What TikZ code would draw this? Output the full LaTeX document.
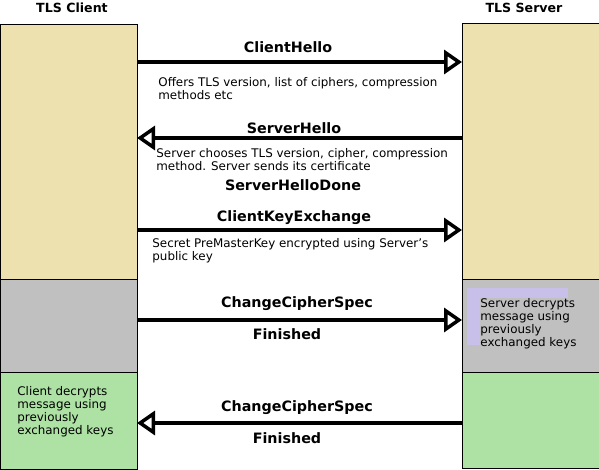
\documentclass[tikz,border=0pt]{standalone}
\usepackage{fontspec}
\setmainfont{DejaVu Sans}
\usetikzlibrary{arrows.meta}
\definecolor{wheatbg}{RGB}{238,225,176}
\definecolor{greybg}{RGB}{192,192,192}
\definecolor{greenbg}{RGB}{173,226,164}
\definecolor{lilac}{RGB}{200,192,232}
\tikzset{
flow/.style={
    x=1pt,
    y=-1pt,
    line width=0.8pt
},
phase/.style={
    draw,
    line width=0.8pt,
    anchor=north west,
    inner sep=0pt,
    minimum width=137pt
},
party/.style={
    font=\fontsize{12.6}{15}\selectfont\bfseries
},
msg/.style={
    font=\fontsize{14.3}{17}\selectfont\bfseries
},
note/.style={
    align=left,
    inner sep=0pt,
    anchor=north west,
    font=\fontsize{11.9}{13}\selectfont
},
sends/.style={
    -{Triangle[open,length=18pt,width=24pt,line width=3.5pt]},
    line width=4pt
}}

\begin{document}
\begin{tikzpicture}[flow]
\useasboundingbox (0,0) rectangle (599,470);

% client column
\node    (cwait)  [phase, fill=wheatbg, minimum height=255pt] at (0,24)   {};
\node    (ccalc)  [phase, fill=greybg,  minimum height=93pt]  at (0,279)  {};
\node    (cdone)  [phase, fill=greenbg, minimum height=97pt]  at (0,372)  {};

% server column
\node    (swait)  [phase, fill=wheatbg, minimum height=256pt] at (462,23)  {};
\node    (scalc)  [phase, fill=greybg,  minimum height=93pt]  at (462,279) {};
\node    (sdone)  [phase, fill=greenbg, minimum height=96pt]  at (462,372) {};

\node    (cli)    [party] at (72,8)   {TLS Client};
\node    (srv)    [party] at (524,8)  {TLS Server};

% message ends
\coordinate (c1) at (137,62);   \coordinate (s1) at (462,62);
\coordinate (c2) at (137,138);  \coordinate (s2) at (462,138);
\coordinate (c3) at (137,230);  \coordinate (s3) at (462,230);
\coordinate (c4) at (137,320);  \coordinate (s4) at (462,320);
\coordinate (c5) at (137,423);  \coordinate (s5) at (462,423);

\path    (c1)    edge[sends]    (s1);
\path    (s2)    edge[sends]    (c2);
\path    (c3)    edge[sends]    (s3);
\path    (c4)    edge[sends]    (s4);
\path    (s5)    edge[sends]    (c5);

\node    (hello)   [msg] at (288,47)   {ClientHello};
\node    (shello)  [msg] at (294,128)  {ServerHello};
\node    (shdone)  [msg] at (293,185)  {ServerHelloDone};
\node    (kex)     [msg] at (294,218)  {ClientKeyExchange};
\node    (ccs1)    [msg] at (297,304)  {ChangeCipherSpec};
\node    (fin1)    [msg] at (287,334)  {Finished};
\node    (ccs2)    [msg] at (297,408)  {ChangeCipherSpec};
\node    (fin2)    [msg] at (287,438)  {Finished};

\node    (n1)  [note] at (158,77)  {Offers TLS version, list of ciphers, compression\\methods etc};
\node    (n2)  [note] at (156,148) {Server chooses TLS version, cipher, compression\\method. Server sends its certificate};
\node    (n3)  [note] at (152,238) {Secret PreMasterKey encrypted using Server's\\public key};

\fill[lilac] (467,288) rectangle (568,345);
\node    (sdec)  [note, fill=greybg] at (480,298) {Server decrypts\\message using\\previously\\exchanged keys};
\node    (cdec)  [note] at (17,386) {Client decrypts\\message using\\previously\\exchanged keys};
\end{tikzpicture}
\end{document}
